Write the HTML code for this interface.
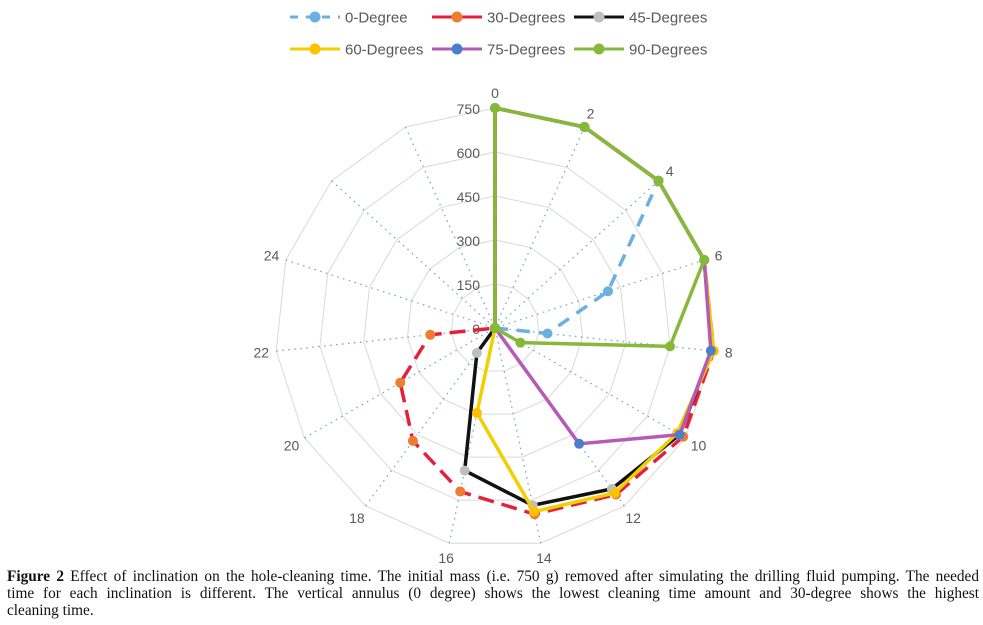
<!DOCTYPE html>
<html><head><meta charset="utf-8"><style>
body{margin:0;background:#fff;width:983px;height:625px;overflow:hidden;position:relative}
svg{position:absolute;left:0;top:0}
#cap{position:absolute;left:7px;top:568px;width:972px;font-family:"Liberation Serif",serif;font-size:15.3px;line-height:17px;color:#111}
#cap span{display:block;text-align:justify;text-align-last:justify;white-space:nowrap}
#cap span.last{text-align-last:left}
</style></head><body>
<svg id="chart" width="983" height="568" font-family="Liberation Sans, sans-serif"></svg>
<div id="cap"><span><b>Figure 2</b> Effect of inclination on the hole-cleaning time. The initial mass (i.e. 750 g) removed after simulating the drilling fluid pumping. The needed</span><span>time for each inclination is different. The vertical annulus (0 degree) shows the lowest cleaning time amount and 30-degree shows the highest</span><span class="last">cleaning time.</span></div>
<script>
const categories=["0","2","4","6","8","10","12","14","16","18","20","22","24","",""];
const ticks=[0,150,300,450,600,750];
const s0=[750,750,750,405,180,0,0,0,0,0,0,0,0,0,0];
const s30=[750,750,750,750,750,741,702,649,570,476,373,222,0,0,0];
const s45=[750,750,750,750,743,727,678,618,497,105,0,0,0,0,0];
const s60=[750,750,750,750,750,717,695,640,296,0,0,0,0,0,0];
const s75=[750,750,750,750,740,727,488,0,0,0,0,0,0,0,0];
const s90=[750,750,750,750,600,100,0,0,0,0,0,0,0,0,0];
const seriesNames=["0-Degree","30-Degrees","45-Degrees","60-Degrees","75-Degrees","90-Degrees"];
const NS="http://www.w3.org/2000/svg";
const svg=document.getElementById('chart');
const cx=495,cy=328,R=220,maxV=750;
function ang(i){return i*2*Math.PI/categories.length;}
function px(i,v){return cx+Math.sin(ang(i))*v/maxV*R;}
function py(i,v){return cy-Math.cos(ang(i))*v/maxV*R;}
function mk(t,a){const e=document.createElementNS(NS,t);for(const k in a)e.setAttribute(k,a[k]);svg.appendChild(e);return e;}
ticks.forEach(t=>{if(t===0)return;
 const p=categories.map((c,i)=>px(i,t)+','+py(i,t)).join(' ');
 const e=mk('polygon',{points:p,fill:'none',stroke:'#d9d9d9','stroke-width':1});
 
 
});
categories.forEach((c,i)=>{
 const e=mk('line',{x1:px(i,8),y1:py(i,8),x2:px(i,maxV),y2:py(i,maxV),stroke:'#6aaad4','stroke-width':1.3,'stroke-dasharray':'1.5 4.5'});
 
 
 if(c!==''){
  const r=R+15;
  const t=mk('text',{x:cx+Math.sin(ang(i))*r,y:cy-Math.cos(ang(i))*r+5,'text-anchor':'middle','font-size':14,fill:'#595959'});
  t.textContent=c;
  
  
 }
});
ticks.forEach(t=>{
 const e=mk('text',{x:cx-15,y:cy-t/maxV*R+6,'text-anchor':'end','font-size':14,fill:'#595959'});
 e.textContent=t;
 
 
});
const styles=[
 {d:s0,line:'#6cb0e0',mark:'#6cb0e0',dash:'13 9'},
 {d:s30,line:'#e3213b',mark:'#ed7d31',dash:'16 8'},
 {d:s45,line:'#111',mark:'#bfbfbf',dash:''},
 {d:s60,line:'#f0d000',mark:'#ffc000',dash:''},
 {d:s75,line:'#b55ab5',mark:'#4a7fd0',dash:''},
 {d:s90,line:'#86b83a',mark:'#86b83a',dash:''}];
styles.forEach((s,k)=>{
 const p=s.d.map((v,i)=>px(i,v)+','+py(i,v)).join(' ');
 const pl=mk('polygon',{points:p,fill:'none',stroke:s.line,'stroke-width':3.5,'stroke-linejoin':'round'});
 if(s.dash)pl.setAttribute('stroke-dasharray',s.dash);
 
 
 s.d.forEach((v,i)=>{
  const c=mk('circle',{cx:px(i,v),cy:py(i,v),r:5,fill:s.mark});
  
  
 });
});
const lx=[290,432,574],ly=[17,49];
styles.forEach((s,k)=>{
 const x=lx[k%3],y=ly[Math.floor(k/3)];
 const g=document.createElementNS(NS,'g');svg.appendChild(g);
 
 
 const l=document.createElementNS(NS,'line');
 [['x1',x],['y1',y],['x2',x+50],['y2',y],['stroke',s.line],['stroke-width',3]].forEach(a=>l.setAttribute(a[0],a[1]));
 if(s.dash)l.setAttribute('stroke-dasharray',k===0?'8 8':'22 7');
 g.appendChild(l);
 const c=document.createElementNS(NS,'circle');
 [['cx',x+25],['cy',y],['r',5.5],['fill',s.mark]].forEach(a=>c.setAttribute(a[0],a[1]));g.appendChild(c);
 const t=document.createElementNS(NS,'text');
 [['x',x+55],['y',y+5.5],['font-size',15],['fill','#595959']].forEach(a=>t.setAttribute(a[0],a[1]));
 t.textContent=seriesNames[k];g.appendChild(t);
});
</script>
</body></html>
